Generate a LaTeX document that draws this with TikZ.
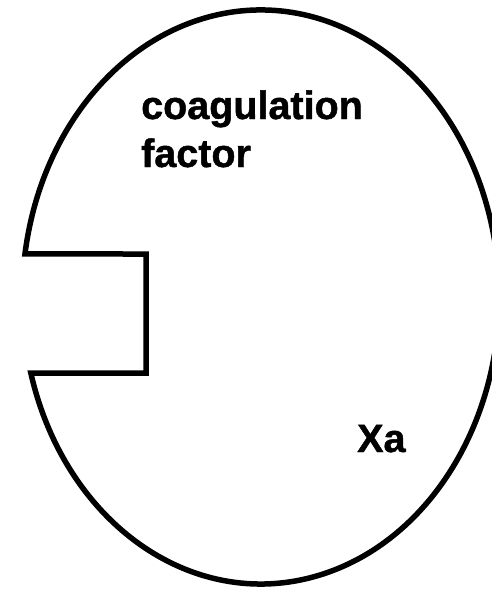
\documentclass[tikz,border=0pt]{standalone}
\usepackage{fontspec}
\setmainfont{Liberation Sans}[BoldFeatures={FakeBold=1.2}]
\begin{document}
\begin{tikzpicture}[x=1pt,y=-1pt,
  outline/.style={line width=5.5pt,line join=miter,draw=black},
  label/.style={anchor=base west,inner sep=0pt,font=\bfseries\fontsize{39.5}{47}\selectfont}]
\useasboundingbox (0,0) rectangle (492,590);
\clip (0,0) rectangle (492,590);
% body of the ellipse with the notch on its left side
\coordinate (lowcorner) at (30.8,373);
\coordinate (topcorner) at (25.2,254);
\coordinate (notchtop) at (146,254);
\coordinate (notchbottom) at (146,373);
\draw[outline] (lowcorner)
  arc[start angle=-195.36, end angle=-531.38, x radius=238.5, y radius=287]
  -- (notchtop) -- (notchbottom) -- cycle;
\node[label] (coag) at (141,119) {coagulation};
\node[label] (fact) at (141,167) {factor};
\node[label] (xa) at (357,452) {Xa};
\end{tikzpicture}
\end{document}
